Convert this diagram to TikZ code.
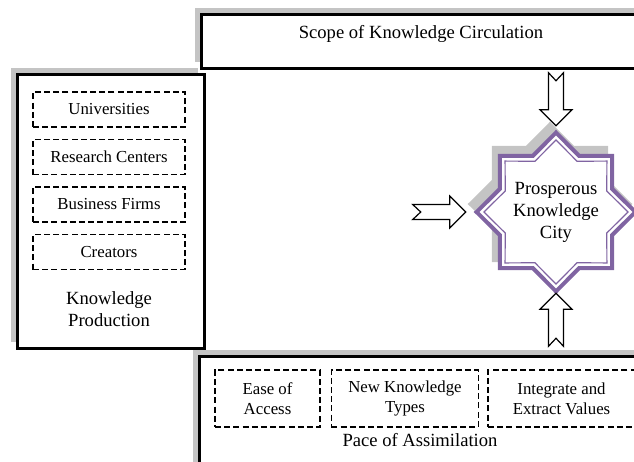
\documentclass[tikz,border=0pt]{standalone}
\usepackage{fontspec}
\setmainfont{Liberation Serif}
\usetikzlibrary{positioning,shapes.geometric,shadows,calc}
\definecolor{cityviolet}{HTML}{8064A2}
\definecolor{shadowgrey}{HTML}{C4C4C4}
\tikzset{
  bigbox/.style={draw, line width=1.6pt, fill=white, anchor=north west,
    general shadow={fill=shadowgrey, shadow xshift=-3.5pt, shadow yshift=3.5pt}},
  dashbox/.style={draw, dash pattern=on 3pt off 1.6pt, line width=0.75pt,
    align=center, inner sep=0pt, font=\fontsize{8.4}{10}\selectfont},
  title/.style={align=center, font=\fontsize{9.3}{11}\selectfont},
  citystar/.style={star, star points=8, star point ratio=1.31, inner sep=0pt, draw=cityviolet},
  blockarrow/.pic={
    \draw[line width=0.6pt, fill=white] (0,0) -- (-16,-16) -- (-16,-7.5) -- (-53,-7.5)
      -- (-45,0) -- (-53,7.5) -- (-16,7.5) -- (-16,16) -- cycle;
  }
}
\begin{document}
\begin{tikzpicture}[x=0.5pt, y=-0.5pt]
\clip (0,0) rectangle (634,462);

% scope of circulation
\node[bigbox, minimum width=222pt, minimum height=27pt] (scopebox) at (200,13) {};
\node[title] (scope) at (421,34) {Scope of Knowledge Circulation};

% knowledge production
\node[bigbox, minimum width=93.5pt, minimum height=137pt] (prodbox) at (16,73) {};
\node[dashbox, minimum width=76pt, minimum height=17.5pt] (uni) at (109,109.5) {Universities};
\node[dashbox, minimum width=76pt, minimum height=17.5pt, below=5.5pt of uni] (research) {Research Centers};
\node[dashbox, minimum width=76pt, minimum height=17.5pt, below=5.5pt of research] (firms) {Business Firms};
\node[dashbox, minimum width=76pt, minimum height=17.5pt, below=5.5pt of firms] (creators) {Creators};
\node[title] (prod) at (109,309) {Knowledge\\Production};

% pace of assimilation
\node[bigbox, minimum width=222pt, minimum height=60pt] (pacebox) at (198,355) {};
\node[dashbox, minimum width=52.5pt, minimum height=28.5pt] (ease) at (267.5,398.5) {Ease of\\Access};
\node[dashbox, minimum width=73.5pt, minimum height=28.5pt, right=5pt of ease] (types) {New Knowledge\\Types};
\node[dashbox, minimum width=73.5pt, minimum height=28.5pt, right=4pt of types] (values) {Integrate and\\Extract Values};
\node[title] (pace) at (420,440) {Pace of Assimilation};

% the city
\node[citystar, title, minimum size=78pt, line width=2pt, fill=white,
  general shadow={fill=shadowgrey, draw=shadowgrey, line width=2pt, shadow xshift=-3pt, shadow yshift=4pt}]
  (city) at (556,212) {Prosperous\\Knowledge\\City};
\node[citystar, minimum size=72pt, line width=0.6pt] (cityrim) at (city.center) {};

% arrows into the city
\pic[rotate=-90] at ($(city.north)+(0,-4)$) {blockarrow};
\pic at ($(city.west)+(-8,0)$) {blockarrow};
\pic[rotate=90] at ($(city.south)+(0,-1)$) {blockarrow};
\end{tikzpicture}
\end{document}
